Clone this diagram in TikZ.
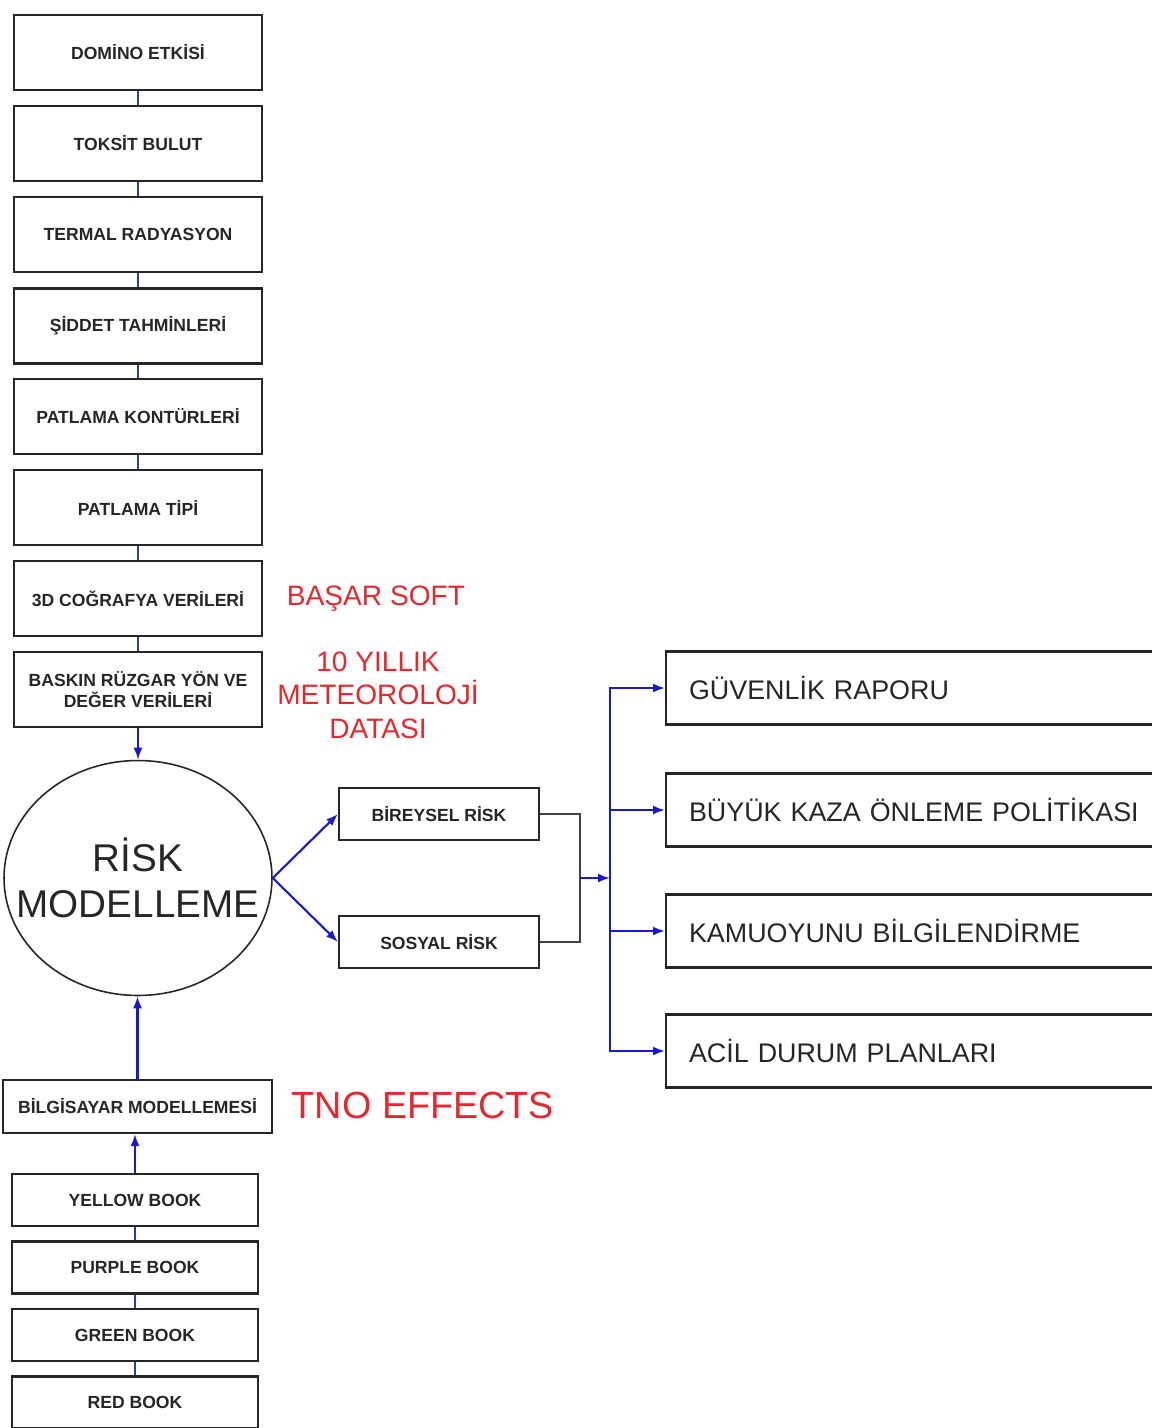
\documentclass[tikz,border=0pt]{standalone}
\usepackage{fontspec}
\setmainfont{Liberation Sans}
\usetikzlibrary{arrows.meta,shapes.geometric}

\definecolor{linkblue}{RGB}{25,25,205}
\definecolor{darkblue}{RGB}{45,60,150}
\definecolor{softred}{RGB}{228,40,45}

\begin{document}
\begin{tikzpicture}[x=0.02cm,y=-0.02cm,
  box/.style={draw=black!85, line width=1.2pt, align=center, inner sep=1pt,
    text=black!85, font=\fontsize{10}{12}\selectfont\bfseries},
  stepbox/.style={box, minimum width=4.96cm, minimum height=1.5cm},
  bookbox/.style={box, minimum width=4.92cm, minimum height=1.04cm},
  riskbox/.style={box, minimum width=4cm, minimum height=1.04cm},
  outbox/.style={box, anchor=west, minimum height=1.46cm, text width=9.4cm,
    inner xsep=0.46cm, align=left, font=\fontsize{15.3}{18}\selectfont},
  redtext/.style={text=softred, align=center},
  link/.style={darkblue, line width=1.2pt},
  arr/.style={linkblue, line width=1.2pt, -{Latex[length=2.4mm,width=1.8mm]}},
  graylink/.style={black!75, line width=1.2pt}]
  \useasboundingbox (0,0) rectangle (1152,1428);

  % input chain
  \node[stepbox] (domino) at (138,52.5) {DOMİNO ETKİSİ};
  \node[stepbox] (toksit) at (138,143.5) {TOKSİT BULUT};
  \node[stepbox] (termal) at (138,234.5) {TERMAL RADYASYON};
  \node[stepbox] (siddet) at (138,326) {ŞİDDET TAHMİNLERİ};
  \node[stepbox] (kontur) at (138,416.5) {PATLAMA KONTÜRLERİ};
  \node[stepbox] (tip) at (138,507.5) {PATLAMA TİPİ};
  \node[stepbox] (cografya) at (138,598.5) {3D COĞRAFYA VERİLERİ};
  \node[stepbox] (ruzgar) at (138,689.5) {BASKIN RÜZGAR YÖN VE\\DEĞER VERİLERİ};
  \draw[link] (domino) -- (toksit);
  \draw[link] (toksit) -- (termal);
  \draw[link] (termal) -- (siddet);
  \draw[link] (siddet) -- (kontur);
  \draw[link] (kontur) -- (tip);
  \draw[link] (tip) -- (cografya);
  \draw[link] (cografya) -- (ruzgar);

  \node[redtext, font=\fontsize{16}{19}\selectfont] (basar) at (376,599) {BAŞAR SOFT};
  \node[redtext, font=\fontsize{16}{19}\selectfont] (meteo) at (378,695)
    {10 YILLIK\\METEOROLOJİ\\DATASI};

  % model
  \node[draw=black!85, line width=0.9pt, ellipse, minimum width=5.36cm,
    minimum height=4.7cm, inner sep=0pt,
    label={[font=\fontsize{22}{26}\selectfont, align=center, text=black!85]center:RİSK\\MODELLEME}]
    (risk) at (138,878) {};
  \draw[arr] (ruzgar) -- (risk);

  \node[box, minimum width=5.38cm, minimum height=1.06cm] (bilgisayar) at (137.5,1106.5)
    {BİLGİSAYAR MODELLEMESİ};
  \node[redtext, font=\fontsize{21.5}{25}\selectfont] (tno) at (423,1105) {TNO EFFECTS};
  \draw[arr] (bilgisayar.north) -- (bilgisayar.north |- risk.south);

  % books
  \node[bookbox] (yellow) at (135,1200) {YELLOW BOOK};
  \node[bookbox] (purple) at (135,1267.5) {PURPLE BOOK};
  \node[bookbox] (green) at (135,1335) {GREEN BOOK};
  \node[bookbox] (red) at (135,1402.5) {RED BOOK};
  \draw[arr] (yellow.north) -- (yellow.north |- bilgisayar.south);
  \draw[link] (yellow) -- (purple);
  \draw[link] (purple) -- (green);
  \draw[link] (green) -- (red);

  % risk outputs
  \node[riskbox] (bireysel) at (439,814) {BİREYSEL RİSK};
  \node[riskbox] (sosyal) at (439,942) {SOSYAL RİSK};
  \draw[arr] (risk.east) -- (bireysel.west);
  \draw[arr] (risk.east) -- (sosyal.west);

  \coordinate (join) at (580,878);
  \coordinate (bus) at (610,878);
  \draw[graylink] (bireysel.east) -| (join) |- (sosyal.east);
  \draw[arr] (join) -- (bus);

  \node[outbox] (guvenlik) at (665,688) {GÜVENLİK RAPORU};
  \node[outbox] (politika) at (665,810) {BÜYÜK KAZA ÖNLEME POLİTİKASI};
  \node[outbox] (kamuoyu) at (665,931) {KAMUOYUNU BİLGİLENDİRME};
  \node[outbox] (acil) at (665,1051) {ACİL DURUM PLANLARI};
  \draw[arr] (bus) |- (guvenlik.west);
  \draw[arr] (bus) |- (politika.west);
  \draw[arr] (bus) |- (kamuoyu.west);
  \draw[arr] (bus) |- (acil.west);
\end{tikzpicture}
\end{document}
